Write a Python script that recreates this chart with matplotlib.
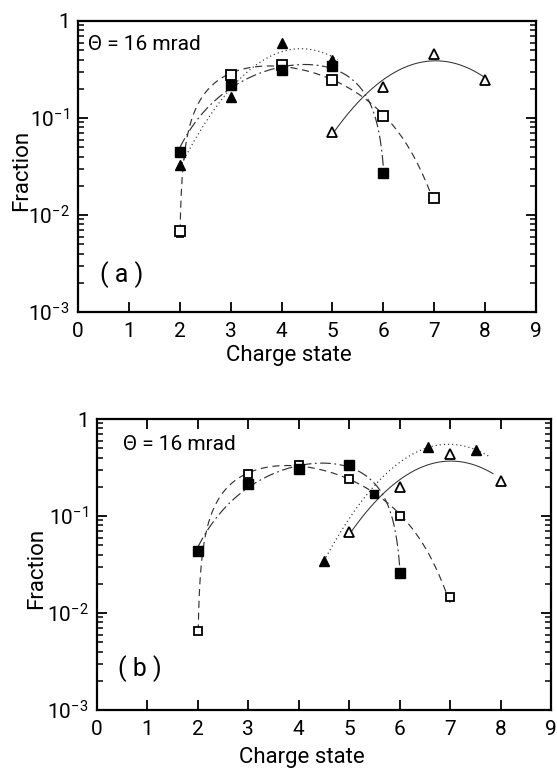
import numpy as np
import matplotlib
matplotlib.use("Agg")
import matplotlib.pyplot as plt
from matplotlib.ticker import LogLocator, FixedLocator, FuncFormatter, NullFormatter

FONT = ['Roboto', 'DejaVu Sans']
plt.rcParams['font.family'] = FONT
plt.rcParams['mathtext.fontset'] = 'custom'
plt.rcParams['mathtext.rm'] = 'Roboto'
plt.rcParams['mathtext.it'] = 'Roboto'

# ---------------- data: panel (a) ----------------
a_sqf_x = [2, 3, 4, 5, 6]
a_sqf_y = [0.045, 0.22, 0.31, 0.34, 0.027]
a_sqo_x = [2, 3, 4, 5, 6, 7]
a_sqo_y = [0.0068, 0.28, 0.35, 0.246, 0.105, 0.015]
a_trf_x = [2, 3, 4, 5]
a_trf_y = [0.033, 0.164, 0.59, 0.40]
a_tro_x = [5, 6, 7, 8]
a_tro_y = [0.072, 0.21, 0.46, 0.246]

# ---------------- data: panel (b) ----------------
b_sqf_x = [2, 3, 4, 5, 6]
b_sqf_y = [0.0436, 0.214, 0.305, 0.336, 0.026]
b_cross_x = [5.5]
b_cross_y = [0.17]
b_sqo_x = [2, 3, 4, 5, 6, 7]
b_sqo_y = [0.0065, 0.27, 0.336, 0.24, 0.10, 0.0146]
b_trf_x = [4.5, 6.57, 7.52]
b_trf_y = [0.0344, 0.51, 0.48]
b_tro_x = [5, 6, 7, 8]
b_tro_y = [0.068, 0.20, 0.436, 0.23]

xticks = [0, 1, 2, 3, 4, 5, 6, 7, 8, 9]
yticks = [1e-3, 1e-2, 1e-1, 1]
ytick_labels = [r'$10^{-3}$', r'$10^{-2}$', r'$10^{-1}$', '1']
theta_text = 'Θ = 16 mrad'
xlabel = 'Charge state'
ylabel = 'Fraction'

LC = '#333333'


def fit_curve(x, y, deg, space, x0, x1):
    x = np.asarray(x, float)
    y = np.asarray(y, float)
    xs = np.linspace(x0, x1, 4000)
    if space == 'log':
        p = np.polyfit(x, np.log10(y), deg)
        ys = 10 ** np.polyval(p, xs)
    else:
        p = np.polyfit(x, y, deg)
        ys = np.polyval(p, xs)
    ys = np.where(ys >= y.min() * 0.95, ys, np.nan)
    return xs, ys


fig = plt.figure(figsize=(5.57, 7.69), dpi=100)
ax_a = fig.add_axes([0.1400, 0.5943, 0.8223, 0.3784])
ax_b = fig.add_axes([0.1741, 0.0767, 0.8151, 0.3784])


def ylab(v, p):
    i = int(np.argmin([abs(np.log10(t) - np.log10(v)) for t in yticks]))
    return ytick_labels[i]


def style_axes(ax, top_ticks):
    ax.set_yscale('log')
    ax.set_xlim(0, 9)
    ax.set_ylim(1e-3, 1)
    for s in ax.spines.values():
        s.set_linewidth(1.6)
    ax.xaxis.set_major_locator(FixedLocator(xticks))
    ax.yaxis.set_major_locator(FixedLocator(yticks))
    ax.yaxis.set_major_formatter(FuncFormatter(ylab))
    ax.yaxis.set_minor_locator(LogLocator(base=10, subs=np.arange(2, 10)))
    ax.yaxis.set_minor_formatter(NullFormatter())
    ax.tick_params(axis='both', which='major', direction='in', length=7, width=1.3,
                   labelsize=15, pad=7)
    ax.tick_params(axis='y', which='minor', direction='in', length=4.5, width=1.1)
    ax.tick_params(axis='y', which='both', left=True, right=True)
    ax.tick_params(axis='x', which='both', bottom=True, top=top_ticks)
    ax.tick_params(axis='y', which='major', pad=6)


style_axes(ax_a, False)
style_axes(ax_b, True)

lw = 0.85
ms_sq = 7
ms_tr = 7.5

# ---------- panel (a) curves ----------
xs, ys = fit_curve(a_sqf_x, a_sqf_y, 3, 'lin', 2, 6)
ax_a.plot(xs, ys, color=LC, lw=lw, dashes=(9, 3, 1.5, 3))
xs, ys = fit_curve(a_sqo_x, a_sqo_y, 3, 'lin', 2, 7)
ax_a.plot(xs, ys, color=LC, lw=lw, dashes=(6, 4))
xs, ys = fit_curve(a_trf_x, a_trf_y, 2, 'log', 2, 5.1)
ax_a.plot(xs, ys, color=LC, lw=lw, dashes=(1, 2.5))
xs, ys = fit_curve(a_tro_x, a_tro_y, 2, 'log', 5, 8)
ax_a.plot(xs, ys, color=LC, lw=0.75)

ax_a.errorbar(a_sqo_x[:1], a_sqo_y[:1], yerr=[[0.0008], [0.0008]], fmt='none',
              ecolor='black', elinewidth=1.2, capsize=3, capthick=1.2, zorder=4)
ax_a.plot(a_sqo_x, a_sqo_y, 's', ms=ms_sq, mfc='white', mec='black', mew=1.3, ls='none', zorder=5)
ax_a.plot(a_sqf_x, a_sqf_y, 's', ms=ms_sq, mfc='black', mec='black', ls='none', zorder=6)
ax_a.plot(a_trf_x, a_trf_y, '^', ms=ms_tr, mfc='black', mec='black', ls='none', zorder=6)
ax_a.plot(a_tro_x, a_tro_y, '^', ms=ms_tr, mfc='white', mec='black', mew=1.3, ls='none', zorder=5)

# ---------- panel (b) curves ----------
xs, ys = fit_curve(b_sqf_x, b_sqf_y, 3, 'lin', 2, 6)
ax_b.plot(xs, ys, color=LC, lw=lw, dashes=(9, 3, 1.5, 3))
xs, ys = fit_curve(b_sqo_x, b_sqo_y, 3, 'lin', 2, 7)
ax_b.plot(xs, ys, color=LC, lw=lw, dashes=(6, 4))
xs, ys = fit_curve(b_trf_x, b_trf_y, 2, 'log', 4.5, 7.8)
ax_b.plot(xs, ys, color=LC, lw=lw, dashes=(1, 2.5))
xs, ys = fit_curve(b_tro_x, b_tro_y, 2, 'log', 5, 7.85)
ax_b.plot(xs, ys, color=LC, lw=0.75)

ax_b.plot(b_sqo_x, b_sqo_y, 's', ms=6, mfc='white', mec='black', mew=1.3, ls='none', zorder=5)
ax_b.plot(b_sqf_x, b_sqf_y, 's', ms=ms_sq, mfc='black', mec='black', ls='none', zorder=6)
ax_b.plot(b_cross_x, b_cross_y, 's', ms=5.5, mfc='black', mec='black', ls='none', zorder=6)
ax_b.plot(b_trf_x, b_trf_y, '^', ms=ms_tr, mfc='black', mec='black', ls='none', zorder=6)
ax_b.plot(b_tro_x, b_tro_y, '^', ms=ms_tr, mfc='white', mec='black', mew=1.3, ls='none', zorder=5)

# ---------- text ----------
ax_a.text(0.022, 0.918, theta_text, transform=ax_a.transAxes, fontsize=15, va='center', ha='left')
ax_b.text(0.057, 0.911, theta_text, transform=ax_b.transAxes, fontsize=15, va='center', ha='left')
ax_a.text(0.048, 0.127, '( a )', transform=ax_a.transAxes, fontsize=18, va='center', ha='left')
ax_b.text(0.046, 0.144, '( b )', transform=ax_b.transAxes, fontsize=18, va='center', ha='left')

ax_a.text(0.46, -0.148, xlabel, transform=ax_a.transAxes, fontsize=16, va='center', ha='center')
ax_b.text(0.452, -0.162, xlabel, transform=ax_b.transAxes, fontsize=16, va='center', ha='center')
ax_a.text(-0.122, 0.488, ylabel, transform=ax_a.transAxes, fontsize=16, va='center', ha='center', rotation=90)
ax_b.text(-0.132, 0.488, ylabel, transform=ax_b.transAxes, fontsize=16, va='center', ha='center', rotation=90)

fig.savefig('out.png', dpi=100)
